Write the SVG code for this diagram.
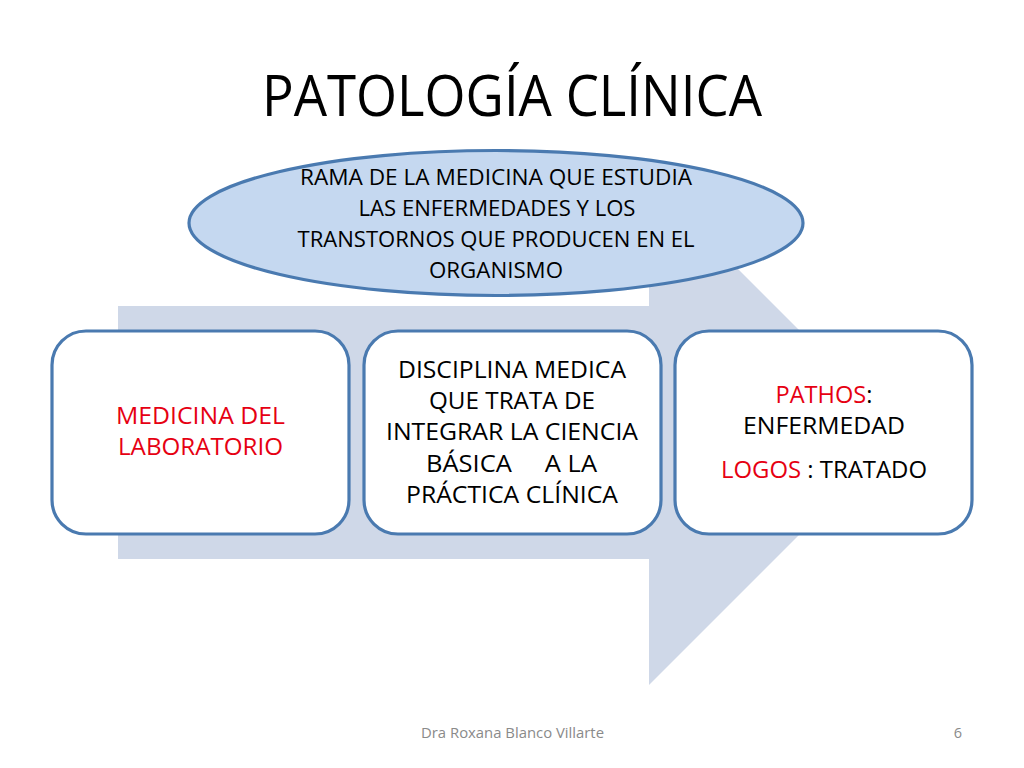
<svg xmlns="http://www.w3.org/2000/svg" width="1024" height="768" viewBox="0 0 1024 768">
<style>
text{font-family:"Open Sans","Noto Sans","Liberation Sans",sans-serif;text-anchor:middle;fill:#000}
.box{fill:#fff;stroke:#4a7ab0;stroke-width:3.2}
.t{font-size:24.5px}
.e{font-size:22.5px}
.r{fill:#e60012}
.f{font-size:14.5px;fill:#8a8a8a}
</style>
<rect width="1024" height="768" fill="#fff"/>
<text x="512" y="116" style="font-size:56px" textLength="500" lengthAdjust="spacingAndGlyphs">PATOLOGÍA CLÍNICA</text>
<g id="connectors"><path id="arrow" d="M118 306H649V180L901.500 432.500 649 685V559H118Z" fill="#cfd8e8"/></g>
<g id="node-definition">
<ellipse cx="496" cy="223" rx="307" ry="72.500" fill="#c5d8f0" stroke="#4a7ab0" stroke-width="3.2"/>
<text class="e" x="496" y="185" textLength="392" lengthAdjust="spacingAndGlyphs">RAMA DE LA MEDICINA QUE ESTUDIA</text>
<text class="e" x="497" y="216" textLength="277" lengthAdjust="spacingAndGlyphs">LAS ENFERMEDADES Y LOS</text>
<text class="e" x="496" y="247" textLength="397" lengthAdjust="spacingAndGlyphs">TRANSTORNOS QUE PRODUCEN EN EL</text>
<text class="e" x="496" y="278" textLength="134" lengthAdjust="spacingAndGlyphs">ORGANISMO</text>
</g>
<g id="node-medicina">
<rect class="box" x="52" y="331" width="297" height="203" rx="34"/>
<text class="t r" x="200.500" y="424" textLength="169" lengthAdjust="spacingAndGlyphs">MEDICINA DEL</text>
<text class="t r" x="200.500" y="455" textLength="165" lengthAdjust="spacingAndGlyphs">LABORATORIO</text>
</g>
<g id="node-disciplina">
<rect class="box" x="364" y="331" width="297" height="203" rx="34"/>
<text class="t" x="512" y="378" textLength="228" lengthAdjust="spacingAndGlyphs">DISCIPLINA MEDICA</text>
<text class="t" x="512" y="409" textLength="166" lengthAdjust="spacingAndGlyphs">QUE TRATA DE</text>
<text class="t" x="512" y="440" textLength="252" lengthAdjust="spacingAndGlyphs">INTEGRAR LA CIENCIA</text>
<text class="t" x="511.500" y="472" xml:space="preserve" textLength="171" lengthAdjust="spacingAndGlyphs">BÁSICA     A LA</text>
<text class="t" x="512" y="503" textLength="212" lengthAdjust="spacingAndGlyphs">PRÁCTICA CLÍNICA</text>
</g>
<g id="node-pathos">
<rect class="box" x="675" y="331" width="297" height="203" rx="34"/>
<text class="t" x="824" y="403" textLength="97" lengthAdjust="spacingAndGlyphs"><tspan class="r">PATHOS</tspan>:</text>
<text class="t" x="824" y="434" textLength="162" lengthAdjust="spacingAndGlyphs">ENFERMEDAD</text>
<text class="t" x="824" y="478" textLength="206" lengthAdjust="spacingAndGlyphs" xml:space="preserve"><tspan class="r">LOGOS </tspan>: TRATADO</text>
</g>
<text class="f" x="512.500" y="738" textLength="183" lengthAdjust="spacingAndGlyphs">Dra Roxana Blanco Villarte</text>
<text class="f" x="958" y="738">6</text>
</svg>
